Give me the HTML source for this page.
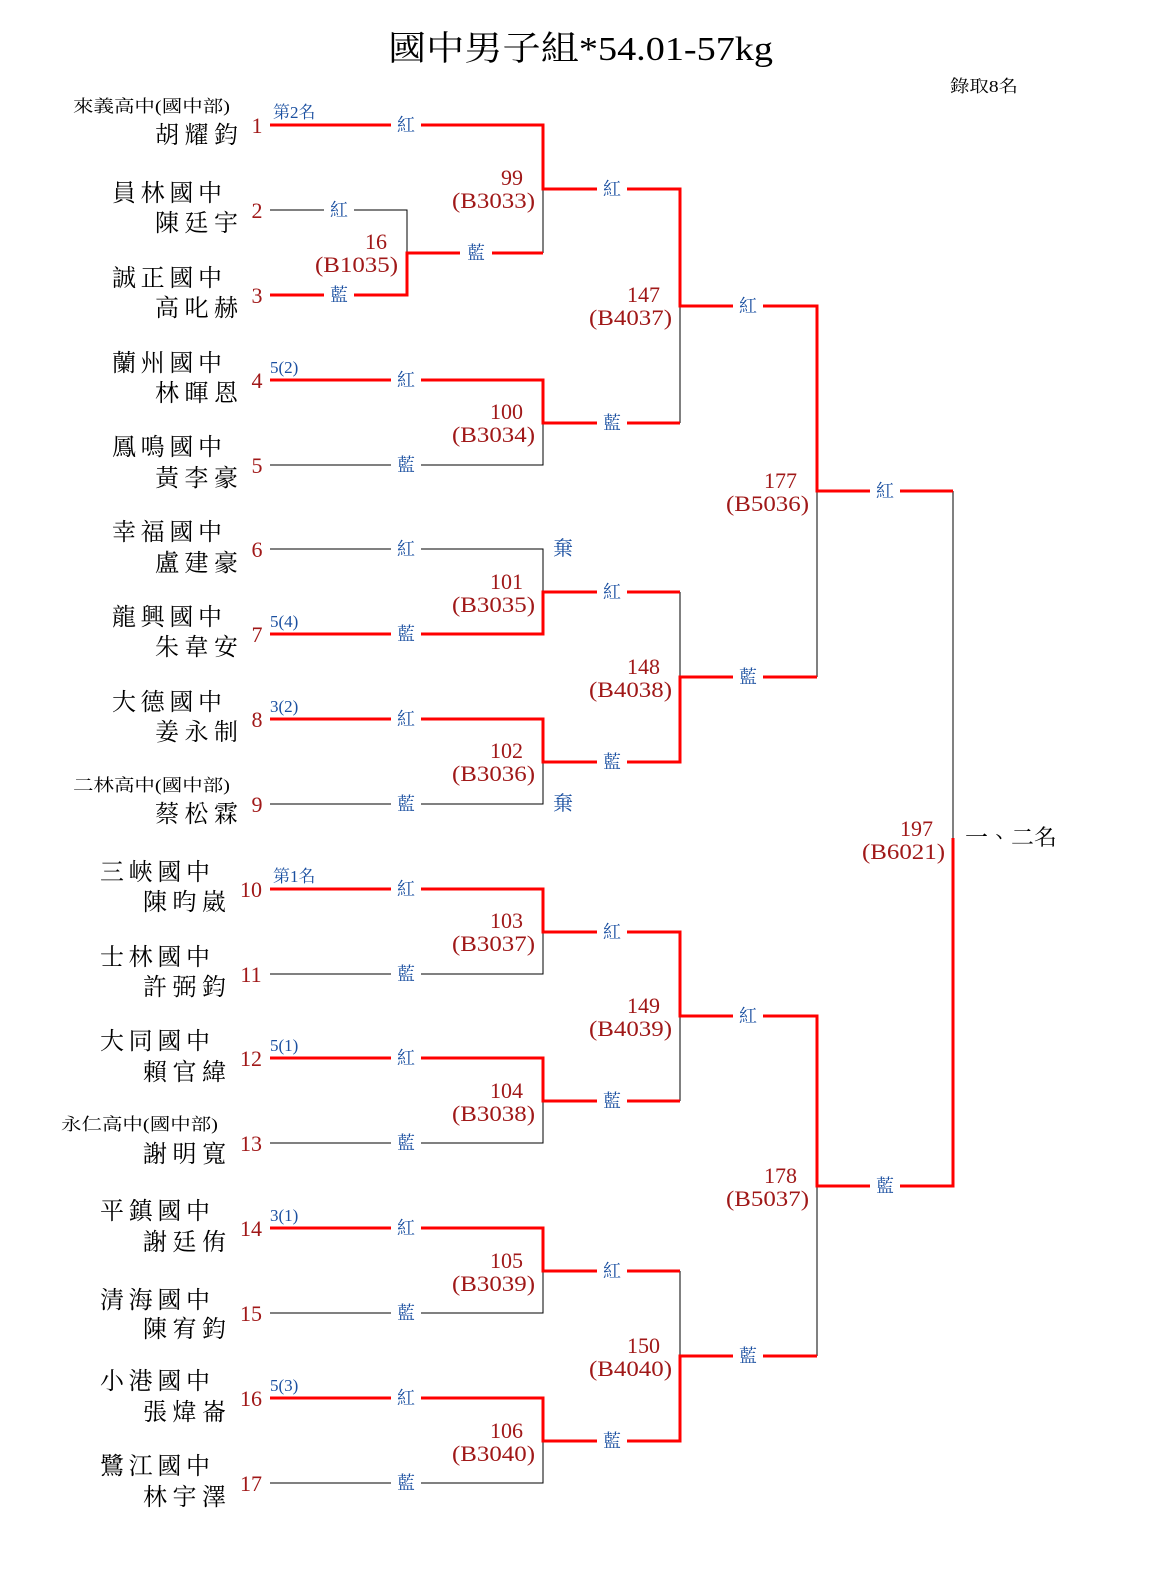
<!DOCTYPE html>
<html><head><meta charset="utf-8"><style>
html,body{margin:0;padding:0;background:#fff;width:1160px;height:1570px;overflow:hidden}
svg{display:block;font-family:"Liberation Serif","Noto Serif CJK TC","Noto Serif CJK SC",serif}
.k{stroke:#000;stroke-width:1;fill:none;shape-rendering:crispEdges}
.r{stroke:#f00;stroke-width:3;fill:none;stroke-linejoin:miter;shape-rendering:crispEdges}
.sc{font-size:24px;fill:#000}
.ss{font-size:17px;fill:#000}
.nm{font-size:24px;fill:#000}
.en{font-size:22px;fill:#a01818}
.sd{font-size:17px;fill:#1a4fa0}
.mn{font-size:22px;fill:#a01818}
.lb{font-size:18px;fill:#1a4fa0}
</style></head><body>
<svg width="1160" height="1570" viewBox="0 0 1160 1570" xmlns="http://www.w3.org/2000/svg">
<text x="388" y="60" font-size="34" textLength="385" lengthAdjust="spacingAndGlyphs">國中男子組*54.01-57kg</text>
<text x="950" y="92" font-size="17" textLength="68" lengthAdjust="spacingAndGlyphs">錄取8名</text>

<path class="k" d="M270 210H407V253M543 189V253M270 465H543V423M270 549H543V592M270 804H543V762M270 974H543V932M270 1143H543V1101M270 1313H543V1271M270 1483H543V1441M680 306V423M680 592V677M680 1016V1101M680 1271V1356M817 491V677M817 1186V1356M953 491V838"/>
<path class="r" d="M270 125H543V189H680V306H817V491H953"/>
<path class="r" d="M270 295H407V253H543"/>
<path class="r" d="M270 380H543V423H680"/>
<path class="r" d="M270 634H543V592H680"/>
<path class="r" d="M270 719H543V762H680V677H817"/>
<path class="r" d="M270 889H543V932H680V1016H817V1186H953V838"/>
<path class="r" d="M270 1058H543V1101H680"/>
<path class="r" d="M270 1228H543V1271H680"/>
<path class="r" d="M270 1398H543V1441H680V1356H817"/>

<g fill="#fff">
<rect x="391" y="118" width="30" height="14"/><rect x="391" y="373" width="30" height="14"/><rect x="391" y="542" width="30" height="14"/><rect x="391" y="712" width="30" height="14"/><rect x="391" y="882" width="30" height="14"/><rect x="391" y="1051" width="30" height="14"/><rect x="391" y="1221" width="30" height="14"/><rect x="391" y="1391" width="30" height="14"/>
<rect x="391" y="458" width="30" height="14"/><rect x="391" y="627" width="30" height="14"/><rect x="391" y="797" width="30" height="14"/><rect x="391" y="967" width="30" height="14"/><rect x="391" y="1136" width="30" height="14"/><rect x="391" y="1306" width="30" height="14"/><rect x="391" y="1476" width="30" height="14"/>
<rect x="324" y="203" width="30" height="14"/><rect x="324" y="288" width="30" height="14"/><rect x="460" y="246" width="32" height="14"/>
<rect x="597" y="182" width="30" height="14"/><rect x="597" y="416" width="30" height="14"/><rect x="597" y="585" width="30" height="14"/><rect x="597" y="755" width="30" height="14"/><rect x="597" y="925" width="30" height="14"/><rect x="597" y="1094" width="30" height="14"/><rect x="597" y="1264" width="30" height="14"/><rect x="597" y="1434" width="30" height="14"/>
<rect x="733" y="299" width="30" height="14"/><rect x="733" y="670" width="30" height="14"/><rect x="733" y="1009" width="30" height="14"/><rect x="733" y="1349" width="30" height="14"/>
<rect x="870" y="484" width="30" height="14"/><rect x="870" y="1179" width="30" height="14"/>
</g>
<g class="lb" text-anchor="middle">
<text x="406" y="131">紅</text><text x="406" y="386">紅</text><text x="406" y="555">紅</text><text x="406" y="725">紅</text><text x="406" y="895">紅</text><text x="406" y="1064">紅</text><text x="406" y="1234">紅</text><text x="406" y="1404">紅</text>
<text x="406" y="471">藍</text><text x="406" y="640">藍</text><text x="406" y="810">藍</text><text x="406" y="980">藍</text><text x="406" y="1149">藍</text><text x="406" y="1319">藍</text><text x="406" y="1489">藍</text>
<text x="339" y="216">紅</text><text x="339" y="301">藍</text><text x="476" y="259">藍</text>
<text x="612" y="195">紅</text><text x="612" y="429">藍</text><text x="612" y="598">紅</text><text x="612" y="768">藍</text><text x="612" y="938">紅</text><text x="612" y="1107">藍</text><text x="612" y="1277">紅</text><text x="612" y="1447">藍</text>
<text x="748" y="312">紅</text><text x="748" y="683">藍</text><text x="748" y="1022">紅</text><text x="748" y="1362">藍</text>
<text x="885" y="497">紅</text><text x="885" y="1192">藍</text>
<text x="563" y="555" font-size="20">棄</text><text x="563" y="810" font-size="20">棄</text>
</g>

<g class="mn" text-anchor="end">
<text x="387" y="249">16</text><text x="398" y="272" textLength="83" lengthAdjust="spacingAndGlyphs">(B1035)</text>
<text x="523" y="185">99</text><text x="535" y="208" textLength="83" lengthAdjust="spacingAndGlyphs">(B3033)</text>
<text x="523" y="419">100</text><text x="535" y="442" textLength="83" lengthAdjust="spacingAndGlyphs">(B3034)</text>
<text x="523" y="589">101</text><text x="535" y="612" textLength="83" lengthAdjust="spacingAndGlyphs">(B3035)</text>
<text x="523" y="758">102</text><text x="535" y="781" textLength="83" lengthAdjust="spacingAndGlyphs">(B3036)</text>
<text x="523" y="928">103</text><text x="535" y="951" textLength="83" lengthAdjust="spacingAndGlyphs">(B3037)</text>
<text x="523" y="1098">104</text><text x="535" y="1121" textLength="83" lengthAdjust="spacingAndGlyphs">(B3038)</text>
<text x="523" y="1268">105</text><text x="535" y="1291" textLength="83" lengthAdjust="spacingAndGlyphs">(B3039)</text>
<text x="523" y="1438">106</text><text x="535" y="1461" textLength="83" lengthAdjust="spacingAndGlyphs">(B3040)</text>
<text x="660" y="302">147</text><text x="672" y="325" textLength="83" lengthAdjust="spacingAndGlyphs">(B4037)</text>
<text x="660" y="674">148</text><text x="672" y="697" textLength="83" lengthAdjust="spacingAndGlyphs">(B4038)</text>
<text x="660" y="1013">149</text><text x="672" y="1036" textLength="83" lengthAdjust="spacingAndGlyphs">(B4039)</text>
<text x="660" y="1353">150</text><text x="672" y="1376" textLength="83" lengthAdjust="spacingAndGlyphs">(B4040)</text>
<text x="797" y="488">177</text><text x="809" y="511" textLength="83" lengthAdjust="spacingAndGlyphs">(B5036)</text>
<text x="797" y="1183">178</text><text x="809" y="1206" textLength="83" lengthAdjust="spacingAndGlyphs">(B5037)</text>
<text x="933" y="836">197</text><text x="945" y="859" textLength="83" lengthAdjust="spacingAndGlyphs">(B6021)</text>
</g>
<text x="965" y="845" font-size="22" textLength="92" lengthAdjust="spacingAndGlyphs">一、二名</text>

<g class="sd">
<text x="273" y="118">第2名</text><text x="270" y="373">5(2)</text><text x="270" y="627">5(4)</text><text x="270" y="712">3(2)</text>
<text x="273" y="882">第1名</text><text x="270" y="1051">5(1)</text><text x="270" y="1221">3(1)</text><text x="270" y="1391">5(3)</text>
</g>

<g class="en" text-anchor="middle">
<text x="257" y="133">1</text><text x="257" y="218">2</text><text x="257" y="303">3</text><text x="257" y="388">4</text><text x="257" y="473">5</text><text x="257" y="557">6</text><text x="257" y="642">7</text><text x="257" y="727">8</text><text x="257" y="812">9</text>
<text x="251" y="897">10</text><text x="251" y="982">11</text><text x="251" y="1066">12</text><text x="251" y="1151">13</text><text x="251" y="1236">14</text><text x="251" y="1321">15</text><text x="251" y="1406">16</text><text x="251" y="1491">17</text>
</g>

<g class="ss">
<text x="73" y="112" textLength="157" lengthAdjust="spacingAndGlyphs">來義高中(國中部)</text>
<text x="73" y="791" textLength="157" lengthAdjust="spacingAndGlyphs">二林高中(國中部)</text>
<text x="61" y="1130" textLength="157" lengthAdjust="spacingAndGlyphs">永仁高中(國中部)</text>
</g>
<g class="sc">
<text x="112" y="201" textLength="110" lengthAdjust="spacing">員林國中</text>
<text x="112" y="286" textLength="110" lengthAdjust="spacing">誠正國中</text>
<text x="112" y="371" textLength="110" lengthAdjust="spacing">蘭州國中</text>
<text x="112" y="455" textLength="110" lengthAdjust="spacing">鳳鳴國中</text>
<text x="112" y="540" textLength="110" lengthAdjust="spacing">幸福國中</text>
<text x="112" y="625" textLength="110" lengthAdjust="spacing">龍興國中</text>
<text x="112" y="710" textLength="110" lengthAdjust="spacing">大德國中</text>
<text x="100" y="880" textLength="110" lengthAdjust="spacing">三峽國中</text>
<text x="100" y="965" textLength="110" lengthAdjust="spacing">士林國中</text>
<text x="100" y="1049" textLength="110" lengthAdjust="spacing">大同國中</text>
<text x="100" y="1219" textLength="110" lengthAdjust="spacing">平鎮國中</text>
<text x="100" y="1308" textLength="110" lengthAdjust="spacing">清海國中</text>
<text x="100" y="1389" textLength="110" lengthAdjust="spacing">小港國中</text>
<text x="100" y="1474" textLength="110" lengthAdjust="spacing">鷺江國中</text>
</g>
<g class="nm">
<text x="155" y="143" textLength="83" lengthAdjust="spacing">胡耀鈞</text>
<text x="155" y="231" textLength="83" lengthAdjust="spacing">陳廷宇</text>
<text x="155" y="316" textLength="83" lengthAdjust="spacing">高叱赫</text>
<text x="155" y="401" textLength="83" lengthAdjust="spacing">林暉恩</text>
<text x="155" y="486" textLength="83" lengthAdjust="spacing">黃李豪</text>
<text x="155" y="571" textLength="83" lengthAdjust="spacing">盧建豪</text>
<text x="155" y="655" textLength="83" lengthAdjust="spacing">朱韋安</text>
<text x="155" y="740" textLength="83" lengthAdjust="spacing">姜永制</text>
<text x="155" y="822" textLength="83" lengthAdjust="spacing">蔡松霖</text>
<text x="143" y="910" textLength="83" lengthAdjust="spacing">陳昀崴</text>
<text x="143" y="995" textLength="83" lengthAdjust="spacing">許弼鈞</text>
<text x="143" y="1080" textLength="83" lengthAdjust="spacing">賴官緯</text>
<text x="143" y="1162" textLength="83" lengthAdjust="spacing">謝明寬</text>
<text x="143" y="1250" textLength="83" lengthAdjust="spacing">謝廷侑</text>
<text x="143" y="1337" textLength="83" lengthAdjust="spacing">陳宥鈞</text>
<text x="143" y="1420" textLength="83" lengthAdjust="spacing">張煒崙</text>
<text x="143" y="1505" textLength="83" lengthAdjust="spacing">林宇澤</text>
</g>
</svg>
</body></html>
